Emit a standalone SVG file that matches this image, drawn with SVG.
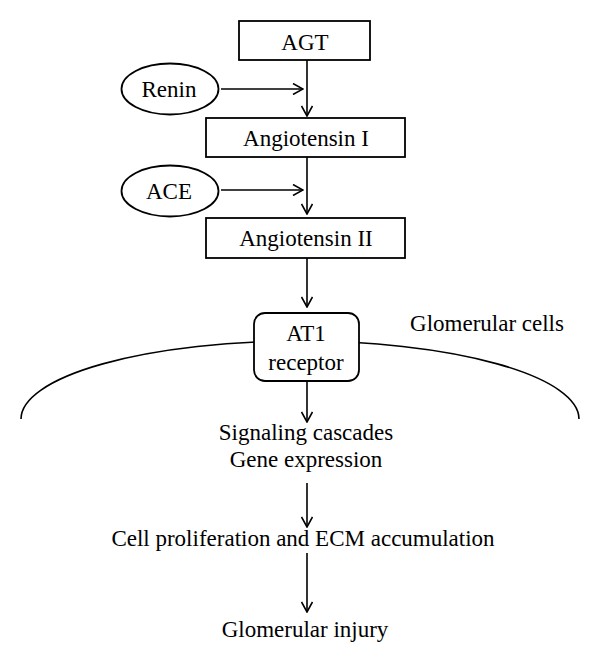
<svg xmlns="http://www.w3.org/2000/svg" width="600" height="664" viewBox="0 0 600 664">
<defs>
<marker id="arr" viewBox="0 0 12 12" refX="11" refY="6" markerWidth="12" markerHeight="12" markerUnits="userSpaceOnUse" orient="auto">
<path d="M1,0.5 L11,6 L1,11.5" fill="none" stroke="#000" stroke-width="1.6"/>
</marker>
<style>
.box{fill:#fff;stroke:#000;stroke-width:1.8}
.ln{fill:none;stroke:#000;stroke-width:1.6}
.t{font-family:"Liberation Serif","Times New Roman",serif;font-size:23px;fill:#000;text-anchor:middle}
</style>
</defs>
<g id="membrane"><path class="ln" d="M21,419 A279,78 0 0 1 579,419"/></g>
<g id="connectors">
<line class="ln" x1="307" y1="60" x2="307" y2="116" marker-end="url(#arr)"/>
<line class="ln" x1="221" y1="89" x2="303" y2="89" marker-end="url(#arr)"/>
<line class="ln" x1="307" y1="157" x2="307" y2="214" marker-end="url(#arr)"/>
<line class="ln" x1="221" y1="190" x2="303" y2="190" marker-end="url(#arr)"/>
<line class="ln" x1="307" y1="258" x2="307" y2="307" marker-end="url(#arr)"/>
<line class="ln" x1="307" y1="381" x2="307" y2="422" marker-end="url(#arr)"/>
<line class="ln" x1="307" y1="483" x2="307" y2="527" marker-end="url(#arr)"/>
<line class="ln" x1="307" y1="553" x2="307" y2="612" marker-end="url(#arr)"/>
</g>
<g id="agt"><rect class="box" x="239" y="21" width="131" height="39"/><text class="t" x="305" y="50">AGT</text></g>
<g id="renin"><ellipse class="box" cx="170" cy="89" rx="48.5" ry="25.5"/><text class="t" x="169" y="97">Renin</text></g>
<g id="ang1"><rect class="box" x="206" y="118" width="199" height="39"/><text class="t" x="306" y="146">Angiotensin I</text></g>
<g id="ace"><ellipse class="box" cx="170" cy="191" rx="48.5" ry="25.5"/><text class="t" x="169" y="199">ACE</text></g>
<g id="ang2"><rect class="box" x="206" y="218" width="199" height="40"/><text class="t" x="306" y="246">Angiotensin II</text></g>
<g id="at1"><rect class="box" x="254" y="313" width="105" height="68" rx="11"/><text class="t" x="306" y="341">AT1</text><text class="t" x="306" y="370">receptor</text></g>
<g id="glom-cells"><text class="t" x="487" y="331">Glomerular cells</text></g>
<g id="signaling"><text class="t" x="306" y="440">Signaling cascades</text><text class="t" x="306" y="467">Gene expression</text></g>
<g id="prolif"><text class="t" x="303" y="546">Cell proliferation and ECM accumulation</text></g>
<g id="injury"><text class="t" x="305" y="637">Glomerular injury</text></g>
</svg>
